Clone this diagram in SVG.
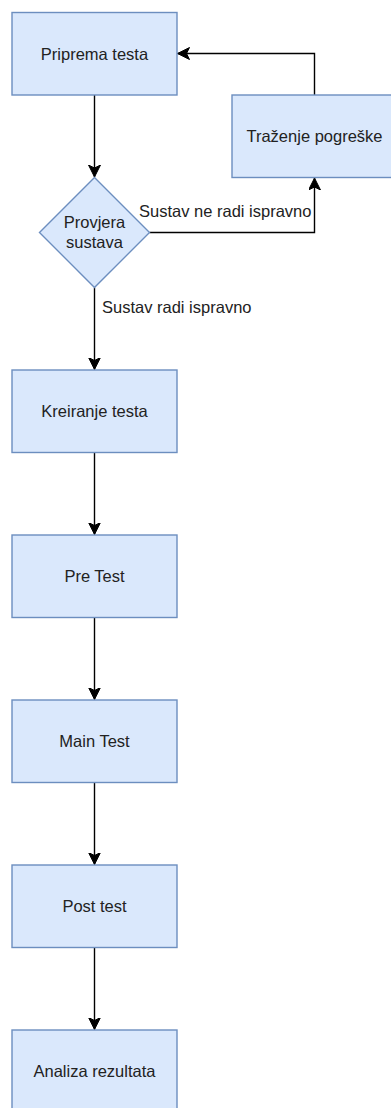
<svg xmlns="http://www.w3.org/2000/svg" width="391" height="1108" viewBox="0 0 391 1108">
<style>
.box{fill:#dae8fc;stroke:#6c8ebf;stroke-width:1.4}
.t{font-family:"Liberation Sans",Arial,sans-serif;font-size:16.5px;fill:#222;text-anchor:middle}
.e{fill:none;stroke:#000;stroke-width:1.4}
.lbl{font-family:"Liberation Sans",Arial,sans-serif;font-size:16.5px;fill:#222}
</style>
<defs>
<marker id="arr" markerUnits="userSpaceOnUse" markerWidth="14" markerHeight="14" refX="12" refY="6" orient="auto">
<path d="M0,0 L12,6 L0,12 L3,6 Z" fill="#000" stroke="#000" stroke-width="1"/>
</marker>
</defs>
<rect width="391" height="1108" fill="#fff"/>
<g id="edges">
<path class="e" d="M94.5,95 L94.5,177" marker-end="url(#arr)"/>
<path class="e" d="M314.5,95 L314.5,53.5 L177.5,53.5" marker-end="url(#arr)"/>
<path class="e" d="M149.5,232.5 L314.5,232.5 L314.5,178" marker-end="url(#arr)"/>
<path class="e" d="M94.5,287.5 L94.5,369.5" marker-end="url(#arr)"/>
<path class="e" d="M94.5,452.5 L94.5,534.5" marker-end="url(#arr)"/>
<path class="e" d="M94.5,617.5 L94.5,699.5" marker-end="url(#arr)"/>
<path class="e" d="M94.5,782.5 L94.5,864.5" marker-end="url(#arr)"/>
<path class="e" d="M94.5,947.5 L94.5,1029.5" marker-end="url(#arr)"/>
<text class="lbl" x="139" y="216.5">Sustav ne radi ispravno</text>
<text class="lbl" x="102" y="313">Sustav radi ispravno</text>
</g>
<g id="n1"><rect class="box" x="12" y="12.5" width="165" height="82.5"/><text class="t" x="94.5" y="59.5">Priprema testa</text></g>
<g id="n2"><rect class="box" x="232" y="95" width="165" height="82.5"/><text class="t" x="314.5" y="142">Traženje pogreške</text></g>
<g id="n3"><path class="box" d="M94.5,177.5 L149.5,232.5 L94.5,287.5 L39.5,232.5 Z"/><text class="t" x="94.5" y="228">Provjera</text><text class="t" x="94.5" y="248">sustava</text></g>
<g id="n4"><rect class="box" x="12" y="370" width="165" height="82.5"/><text class="t" x="94.5" y="417">Kreiranje testa</text></g>
<g id="n5"><rect class="box" x="12" y="535" width="165" height="82.5"/><text class="t" x="94.5" y="582">Pre Test</text></g>
<g id="n6"><rect class="box" x="12" y="700" width="165" height="82.5"/><text class="t" x="94.5" y="747">Main Test</text></g>
<g id="n7"><rect class="box" x="12" y="865" width="165" height="82.5"/><text class="t" x="94.5" y="912">Post test</text></g>
<g id="n8"><rect class="box" x="12" y="1030" width="165" height="82.5"/><text class="t" x="94.5" y="1077">Analiza rezultata</text></g>
</svg>
